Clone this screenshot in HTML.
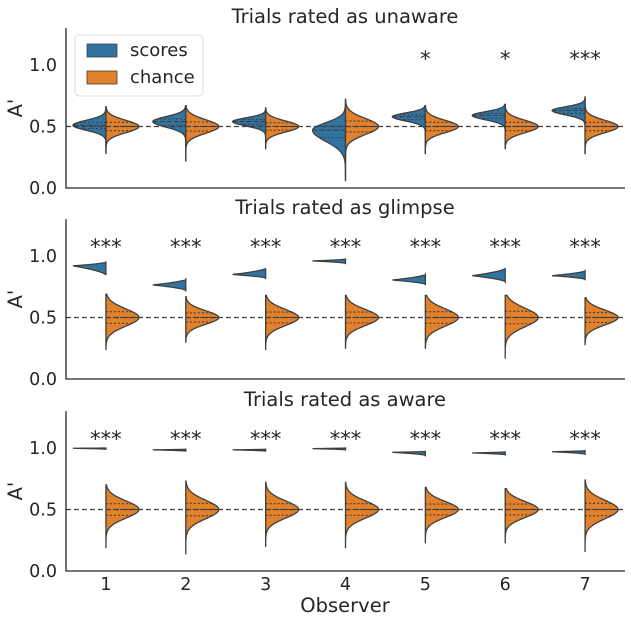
<!DOCTYPE html>
<html><head><meta charset="utf-8"><style>
body{margin:0;background:#fff;}
svg text{font-family:"DejaVu Sans","Liberation Sans",sans-serif;fill:#262626;}
</style></head><body>
<svg id="c" width="631" height="623" xmlns="http://www.w3.org/2000/svg"></svg>
<script>
const observers=[1,2,3,4,5,6,7];
const panelTitles=["Trials rated as unaware","Trials rated as glimpse","Trials rated as aware"];
const yTicks=[0.0,0.5,1.0];
const yTickLabels=["0.0","0.5","1.0"];
const scoreMode=[[0.51,0.54,0.54,0.47,0.58,0.59,0.63],[0.92,0.765,0.85,0.96,0.805,0.84,0.84],[0.998,0.985,0.985,0.995,0.965,0.96,0.97]];
const scoreSdUp=[[0.04,0.04,0.03,0.06,0.03,0.03,0.03],[0.008,0.012,0.012,0.005,0.012,0.015,0.01],[0.002,0.003,0.003,0.002,0.003,0.003,0.003]];
const scoreSdDown=[[0.04,0.045,0.035,0.09,0.035,0.035,0.035],[0.025,0.03,0.025,0.012,0.03,0.035,0.025],[0.004,0.006,0.006,0.004,0.008,0.008,0.007]];
const scoreLo=[[0.28,0.22,0.32,0.06,0.28,0.32,0.28],[0.845,0.72,0.82,0.94,0.77,0.79,0.81],[0.99,0.975,0.975,0.985,0.94,0.945,0.95]];
const scoreHi=[[0.66,0.67,0.65,0.72,0.67,0.68,0.74],[0.95,0.81,0.9,0.975,0.85,0.9,0.88],[1.0,0.99,0.99,1.0,0.972,0.968,0.978]];
const panelKernel=["gauss","tri","tri"];
const chanceMode=[[0.5,0.5,0.5,0.5,0.5,0.5,0.5],[0.5,0.5,0.5,0.5,0.5,0.5,0.5],[0.5,0.5,0.5,0.5,0.5,0.5,0.5]];
const chanceSd=[[0.05,0.055,0.045,0.065,0.05,0.05,0.05],[0.07,0.055,0.065,0.065,0.07,0.075,0.06],[0.07,0.075,0.07,0.07,0.065,0.065,0.075]];
const chanceLo=[[0.28,0.22,0.32,0.06,0.28,0.32,0.28],[0.24,0.30,0.24,0.25,0.25,0.17,0.28],[0.19,0.14,0.20,0.19,0.23,0.23,0.16]];
const chanceHi=[[0.66,0.67,0.65,0.72,0.67,0.68,0.74],[0.69,0.67,0.68,0.68,0.68,0.68,0.66],[0.70,0.73,0.72,0.72,0.68,0.67,0.74]];
const stars=[["","","","","*","*","***"],["***","***","***","***","***","***","***"],["***","***","***","***","***","***","***"]];

const NS="http://www.w3.org/2000/svg";
const svg=document.getElementById('c');
function mk(tag,attrs,parent){const e=document.createElementNS(NS,tag);for(const k in attrs)e.setAttribute(k,attrs[k]);(parent||svg).appendChild(e);return e;}
const X0=66,X1=625,Y0s=[188,379,571],PX=123,HALF=33;
const xs=i=>X0+(i+0.5)*(X1-X0)/7;
const ys=(p,v)=>Y0s[p]-v*PX;

function halfPath(p,cx,dir,mode,sdu,sdd,lo,hi,kernel){
  const w=kernel==="tri"
    ? v=>{const r=v>=mode?Math.max(0,1-(v-mode)/(hi-mode||1e-6)):Math.max(0,1-(mode-v)/(mode-lo||1e-6));return Math.pow(r,1.6);}
    : v=>{const s=v>=mode?sdu:sdd;return Math.exp(-0.5*Math.pow((v-mode)/s,2));};
  const n=80;let d=`M${cx},${ys(p,lo)}`;
  const pts=[lo,hi,mode];for(let k=0;k<=n;k++)pts.push(lo+(hi-lo)*k/n);
  pts.sort((a,b)=>a-b);
  pts.forEach(v=>{d+=` L${cx+dir*HALF*w(v)},${ys(p,v)}`;});
  d+=` L${cx},${ys(p,hi)} Z`;return {d,w};
}
for(let p=0;p<3;p++){
  const top=Y0s[p]-1.3*PX;
  const g=mk('g',{});
  
  
  const t=mk('text',{x:345,y:top-5,'font-size':19.5,'text-anchor':'middle'},g);t.textContent=panelTitles[p];
  
  const yl=mk('text',{x:22,y:(top+Y0s[p])/2,'font-size':19.5,'text-anchor':'middle',transform:`rotate(-90 22 ${(top+Y0s[p])/2})`},g);yl.textContent="A'";
  
  yTicks.forEach((v,i)=>{const tl=mk('text',{x:57,y:ys(p,v)+6,'font-size':17.5,'text-anchor':'end'},g);tl.textContent=yTickLabels[i];
    });
  observers.forEach((o,i)=>{
    const cx=xs(i);
    const kern=panelKernel[p];
    const b=halfPath(p,cx,-1,scoreMode[p][i],scoreSdUp[p][i],scoreSdDown[p][i],scoreLo[p][i],scoreHi[p][i],kern);
    const bp=mk('path',{d:b.d,fill:'#3274a1',stroke:'#3f3f3f','stroke-width':1.3},g);
    
    const c=halfPath(p,cx,1,chanceMode[p][i],chanceSd[p][i],chanceSd[p][i],chanceLo[p][i],chanceHi[p][i],"gauss");
    const cp=mk('path',{d:c.d,fill:'#e1812c',stroke:'#3f3f3f','stroke-width':1.3},g);
    
    const bm=scoreMode[p][i],cm=chanceMode[p][i],cs=chanceSd[p][i];
    if(kern==="gauss"){
    [[bm+0.674*scoreSdUp[p][i]*0.8,'2,2'],[bm,'5,2'],[bm-0.674*scoreSdDown[p][i],'2,2']].forEach(([v,da])=>{
      const q=mk('line',{x1:cx,x2:cx-HALF*b.w(v),y1:ys(p,v),y2:ys(p,v),stroke:'#3f3f3f','stroke-width':1.1,'stroke-dasharray':da},g);
      });
    }
    [[cm+0.674*cs,'2,2'],[cm,'5,2'],[cm-0.674*cs,'2,2']].forEach(([v,da])=>{
      const q=mk('line',{x1:cx,x2:cx+HALF*c.w(v),y1:ys(p,v),y2:ys(p,v),stroke:'#3f3f3f','stroke-width':1.1,'stroke-dasharray':da},g);
      });
    if(stars[p][i]){const s=mk('text',{x:cx,y:ys(p,1.0)+(p==0?1:-2),'font-size':21,'text-anchor':'middle'},g);s.textContent=stars[p][i];
      }
  });
  const ref=mk('line',{x1:X0,x2:X1,y1:ys(p,0.5),y2:ys(p,0.5),stroke:'#3f3f3f','stroke-width':1.2,'stroke-dasharray':'5,3'},g);
  
  const ax=mk('path',{d:`M${X0},${top} V${Y0s[p]} H${X1}`,fill:'none',stroke:'#262626','stroke-width':1.3},g);
  
}
observers.forEach((o,i)=>{const t=mk('text',{x:xs(i),y:590,'font-size':17.5,'text-anchor':'middle'});t.textContent=o;
  });
const xl=mk('text',{x:345,y:612,'font-size':19.5,'text-anchor':'middle'});xl.textContent='Observer';

const lg=mk('g',{});

mk('rect',{x:75,y:35,width:128,height:61,rx:4,fill:'#fff',stroke:'#dcdcdc'},lg);
[['scores','#3274a1',44],['chance','#e1812c',71]].forEach(([n,col,y])=>{
  const r=mk('rect',{x:87,y:y,width:30,height:13,fill:col,stroke:'#3f3f3f','stroke-width':0.8},lg);
  
  const t=mk('text',{x:130,y:y+12,'font-size':18},lg);t.textContent=n;
  
});
</script>
</body></html>
